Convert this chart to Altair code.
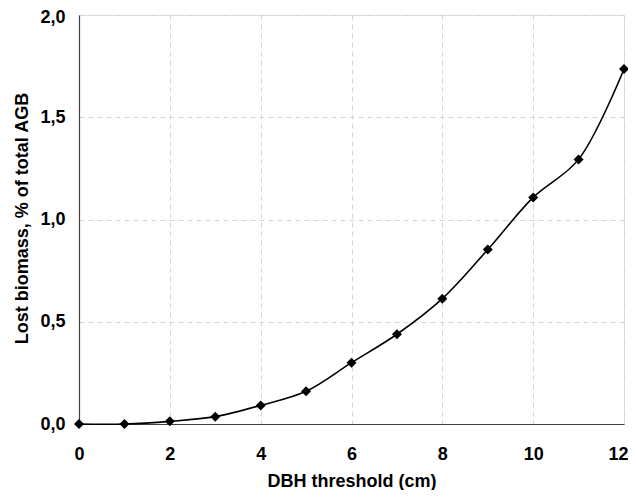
import altair as alt
import pandas as pd

dbh = [0, 1, 2, 3, 4, 5, 6, 7, 8, 9, 10, 11, 12]
lost = [0.0, 0.0, 0.013, 0.036, 0.091, 0.16, 0.30, 0.439, 0.613, 0.853, 1.108, 1.294, 1.736]
x_ticks = [0, 2, 4, 6, 8, 10, 12]
y_ticks = [0.0, 0.5, 1.0, 1.5, 2.0]

df = pd.DataFrame({"dbh": dbh, "lost": lost})

FONT = "Liberation Sans"

x_enc = alt.X(
    "dbh:Q",
    scale=alt.Scale(domain=[0, 12], nice=False, zero=False),
    axis=alt.Axis(
        values=x_ticks,
        title="DBH threshold (cm)",
        format="d",
        ticks=False,
        labelPadding=21,
        labelFontSize=18,
        labelFont=FONT,
        labelFontWeight="bold",
        labelColor="#000000",
        labelOffset={"condition": {"test": "datum.value == 12", "value": -6}, "value": 0},
        titleFont=FONT,
        titleFontSize=18,
        titleFontWeight="bold",
        titleColor="#000000",
        titleY=48,
        domainColor="#404040",
        domainWidth=1.2,
        grid=True,
        gridColor="#d4d4d4",
        gridDash=[5, 4],
        gridWidth=1,
        labelFlush=False,
    ),
)

y_enc = alt.Y(
    "lost:Q",
    scale=alt.Scale(domain=[0, 2], nice=False),
    axis=alt.Axis(
        values=y_ticks,
        title="Lost biomass, % of total AGB",
        labelExpr="replace(format(datum.value, '.1f'), '.', ',')",
        ticks=False,
        labelPadding=14,
        labelFontSize=18,
        labelFont=FONT,
        labelFontWeight="bold",
        labelColor="#000000",
        labelOffset={"condition": {"test": "datum.value == 2", "value": 2}, "value": 0},
        titleFont=FONT,
        titleFontSize=18,
        titleFontWeight="bold",
        titleColor="#000000",
        titleX=-48,
        titleY=203,
        domainColor="#404040",
        domainWidth=1.2,
        grid=True,
        gridColor="#d4d4d4",
        gridDash=[5, 4],
        gridWidth=1,
        labelFlush=False,
    ),
)

base = alt.Chart(df)

line = base.mark_line(
    color="#000000", strokeWidth=1.6, interpolate="catmull-rom"
).encode(x=x_enc, y=y_enc)

pts = base.mark_point(
    shape="diamond", filled=True, color="#000000", size=100, opacity=1
).encode(x="dbh:Q", y="lost:Q")

chart = (
    alt.layer(line, pts)
    .properties(
        width=545,
        height=409,
        autosize=alt.AutoSizeParams(type="none"),
        padding={"left": 71, "top": 7, "right": 4, "bottom": 66},
    )
    .configure_view(stroke="#808080", strokeWidth=1.2)
    .configure(background="#ffffff")
)

chart.save("out.html", embed_options={"renderer": "svg", "actions": False})
